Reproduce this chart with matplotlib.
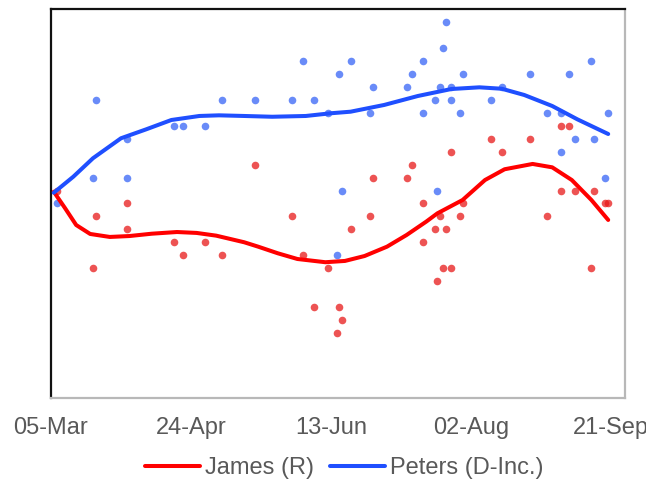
import datetime as dt
import matplotlib
matplotlib.use("Agg")
import matplotlib.pyplot as plt
import matplotlib.dates as mdates

plt.rcParams['font.family'] = ['Liberation Sans', 'DejaVu Sans']

start = dt.date(2020, 3, 5)

# Poll results (days after 05-Mar-2020, percent)
poll_days = [2, 16, 15, 27, 27, 44, 47, 55, 61, 73, 86, 90, 94, 99, 103, 107, 104, 102,
             114, 115, 127, 129, 133, 133, 137, 138, 139, 140, 141, 143, 143, 146, 147,
             157, 161, 171, 177, 182, 182, 185, 187, 193, 194, 198, 199]
peters_polls = [40, 48, 42, 45, 42, 46, 46, 46, 48, 48, 48, 51, 48, 47, 50, 51, 41, 36,
                47, 49, 49, 50, 51, 47, 48, 41, 49, 52, 54, 49, 48, 47, 50,
                48, 49, 50, 47, 47, 44, 50, 45, 51, 45, 42, 47]
james_days = [2, 16, 15, 27, 27, 44, 47, 55, 61, 73, 86, 90, 94, 99, 103, 104, 102, 107,
              114, 115, 127, 129, 133, 133, 137, 138, 139, 140, 141, 143, 143, 146, 147,
              157, 161, 171, 177, 182, 185, 182, 187, 193, 194, 198, 199]
james_polls = [41, 39, 35, 40, 38, 37, 36, 37, 36, 43, 39, 36, 32, 35, 32, 31, 30, 38,
               39, 42, 42, 43, 40, 37, 38, 34, 39, 35, 38, 35, 44, 39, 40,
               45, 44, 45, 39, 46, 46, 41, 41, 35, 41, 40, 40]

# Trend lines
james_trend_days = [1.8, 5.0, 9.6, 14.6, 21.8, 28.9, 36.1, 45.4, 52.5, 59.6, 69.3, 74.6,
                    81.8, 88.9, 98.6, 105.7, 112.9, 120.0, 127.1, 134.3, 138.9, 147.1,
                    155.7, 162.9, 172.1, 179.3, 186.4, 193.6, 199.0]
james_trend = [40.91, 39.65, 38.34, 37.65, 37.42, 37.49, 37.67, 37.80, 37.73, 37.52, 37.01,
               36.67, 36.16, 35.72, 35.47, 35.57, 35.95, 36.67, 37.57, 38.60, 39.24, 40.27,
               41.81, 42.64, 43.05, 42.79, 41.81, 40.27, 38.73]
peters_trend_days = [1.8, 8.0, 15.1, 25.8, 34.2, 43.7, 53.2, 60.4, 69.9, 79.4, 91.3, 100.8,
                     107.9, 119.9, 131.8, 143.7, 153.2, 161.5, 169.9, 179.4, 188.9, 199.0]
peters_trend = [40.83, 42.07, 43.49, 45.03, 45.72, 46.44, 46.75, 46.80, 46.75, 46.69, 46.75,
                46.96, 47.08, 47.60, 48.29, 48.83, 48.96, 48.85, 48.37, 47.52, 46.49, 45.36]

tick_days = [0, 50, 100, 150, 200]


def to_dates(days):
    return [start + dt.timedelta(days=float(d)) for d in days]


fig = plt.figure(figsize=(6.46, 4.87), dpi=100)
ax = fig.add_axes([0.0789, 0.1828, 0.8886, 0.7987])

ax.scatter(to_dates(james_days), james_polls, s=30, color='#E81A1A', alpha=0.75,
           linewidths=0, zorder=2)
ax.scatter(to_dates(poll_days), peters_polls, s=30, color='#2255F5', alpha=0.68,
           linewidths=0, zorder=2)

ax.plot(to_dates(james_trend_days), james_trend, color='#FF0000', lw=2.9,
        solid_joinstyle='round', solid_capstyle='round', zorder=3, label='James (R)')
ax.plot(to_dates(peters_trend_days), peters_trend, color='#1F4FFF', lw=2.9,
        solid_joinstyle='round', solid_capstyle='round', zorder=3, label='Peters (D-Inc.)')

ax.set_xlim(start, start + dt.timedelta(days=205))
ax.set_ylim(25, 55)
ax.set_xticks(to_dates(tick_days))
ax.xaxis.set_major_formatter(mdates.DateFormatter('%d-%b'))
ax.set_yticks([])
ax.tick_params(axis='x', length=0, pad=14, labelsize=17, labelcolor='#595959')

for side in ['left', 'top']:
    ax.spines[side].set_color('#111111')
    ax.spines[side].set_linewidth(1.6)
for side in ['right', 'bottom']:
    ax.spines[side].set_color('#b8b8b8')
    ax.spines[side].set_linewidth(1.6)

leg = fig.legend(loc='center', bbox_to_anchor=(0.533, 0.039), ncol=2, frameon=False,
                 fontsize=17, handlelength=2.33, handletextpad=0.2, columnspacing=0.7,
                 borderaxespad=0, borderpad=0)
for t in leg.get_texts():
    t.set_color('#595959')

fig.savefig('out.png', dpi=100)
